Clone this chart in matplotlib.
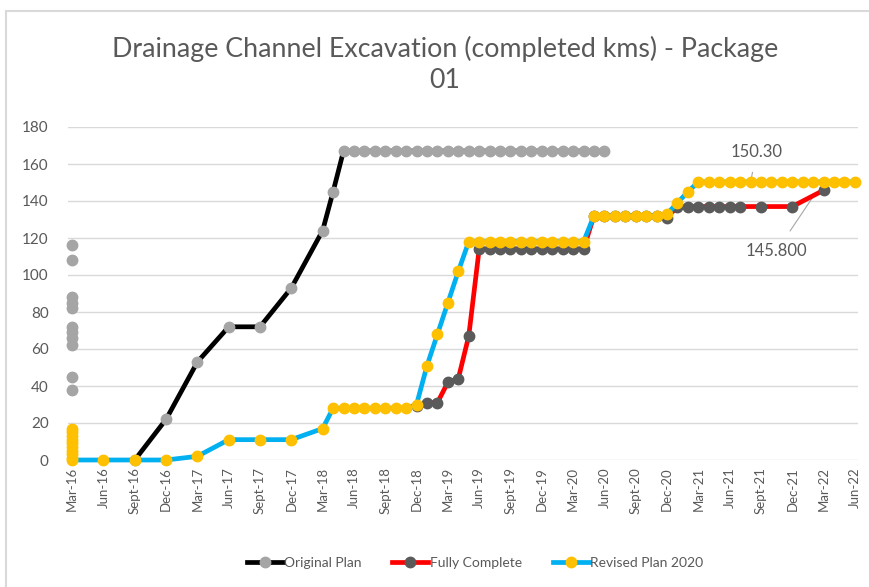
import numpy as np
import pandas as pd
import matplotlib
matplotlib.use("Agg")
from matplotlib import pyplot as plt
from matplotlib.lines import Line2D
from matplotlib.patches import Rectangle

plt.rcParams['font.family'] = ['Lato', 'DejaVu Sans']

# x axis labels (quarterly)
tick_labels = ["Mar-16", "Jun-16", "Sept-16", "Dec-16", "Mar-17", "Jun-17", "Sept-17", "Dec-17",
               "Mar-18", "Jun-18", "Sept-18", "Dec-18", "Mar-19", "Jun-19", "Sept-19", "Dec-19",
               "Mar-20", "Jun-20", "Sept-20", "Dec-20", "Mar-21", "Jun-21", "Sept-21", "Dec-21",
               "Mar-22", "Jun-22"]

# Original Plan
orig_dates = (["2016-09", "2016-12", "2017-03", "2017-06", "2017-09", "2017-12", "2018-03"]
              + [str(p) for p in pd.period_range("2018-04", "2020-06", freq="M")])
orig_vals = [0, 22, 53, 72, 72, 93, 124,
             145, 167, 167, 167, 167, 167, 167, 167, 167,
             167, 167, 167, 167, 167, 167, 167, 167, 167, 167, 167, 167,
             167, 167, 167, 167, 167, 167]
orig_extra = [116, 108, 88, 85, 82, 72, 69, 66, 62, 45, 38]   # stacked at Mar-16

# Fully Complete
full_dates = ([str(p) for p in pd.period_range("2018-12", "2021-07", freq="M")]
              + ["2021-09", "2021-12", "2022-03"])
full_vals = [29,
             31, 31, 42, 44, 67, 114, 114, 114, 114, 114, 114, 114,
             114, 114, 114, 114, 132, 132, 132, 132, 132, 132, 132, 131,
             137, 137, 137, 137, 137, 137, 137,
             137, 137, 145.8]

# Revised Plan 2020
rev_dates = (["2016-03", "2016-06", "2016-09", "2016-12", "2017-03", "2017-06", "2017-09", "2017-12", "2018-03"]
             + [str(p) for p in pd.period_range("2018-04", "2022-06", freq="M")])
rev_vals = [0, 0, 0, 0, 2, 11, 11, 11, 17,
            28, 28, 28, 28, 28, 28, 28, 28, 30,
            51, 68, 85, 102, 118, 118, 118, 118, 118, 118, 118, 118,
            118, 118, 118, 118, 132, 132, 132, 132, 132, 132, 132, 133,
            139, 145, 150.3, 150.3, 150.3, 150.3, 150.3, 150.3, 150.3, 150.3, 150.3, 150.3,
            150.3, 150.3, 150.3, 150.3, 150.3, 150.3]
rev_extra = [17, 15, 13, 11, 9, 7, 5, 3, 1]   # stacked at Mar-16

start = pd.Period("2016-03", freq="M")


def month_idx(dates):
    return np.array([(pd.Period(d, freq="M") - start).n for d in dates])


fig = plt.figure(figsize=(8.69, 5.87), dpi=100)
ax = fig.add_axes([68 / 869, 1 - 460 / 587, (858 - 68) / 869, (460 - 127) / 587])

grey_txt = "#595959"
ms = 7.5

ax.plot(month_idx(orig_dates), orig_vals, color="black", lw=3.4, marker="o", ms=ms,
        mfc="#A5A5A5", mec="#A5A5A5", clip_on=False, zorder=3)
ax.plot(np.zeros(len(orig_extra)), orig_extra, ls="none", marker="o", ms=ms,
        mfc="#A5A5A5", mec="#A5A5A5", clip_on=False, zorder=3)

ax.plot(month_idx(full_dates), full_vals, color="#FF0000", lw=3.4, marker="o", ms=ms,
        mfc="#5A5A5A", mec="#5A5A5A", clip_on=False, zorder=4)

ax.plot(month_idx(rev_dates), rev_vals, color="#00B0F0", lw=3.4, marker="o", ms=ms,
        mfc="#FFC000", mec="#FFC000", clip_on=False, zorder=5)
ax.plot(np.zeros(len(rev_extra)), rev_extra, ls="none", marker="o", ms=ms,
        mfc="#FFC000", mec="#FFC000", clip_on=False, zorder=5)

# data labels
ax.annotate("150.30", xy=(65, 150.3), xytext=(65.6, 166.5), ha="center", va="center",
            fontsize=12, color=grey_txt,
            arrowprops=dict(arrowstyle="-", color="#A6A6A6", lw=0.8, shrinkA=7, shrinkB=0))
ax.annotate("145.800", xy=(71.2, 144), xytext=(67.5, 113), ha="center", va="center",
            fontsize=12, color=grey_txt,
            arrowprops=dict(arrowstyle="-", color="#A6A6A6", lw=0.8, shrinkA=8, shrinkB=0))

ax.set_xlim(-0.4, 75.3)
ax.set_ylim(0, 180)
ax.set_yticks(np.arange(0, 181, 20))
ax.set_xticks(np.arange(0, 76, 3))
ax.set_xticklabels(tick_labels, rotation=90, fontsize=9.5, color=grey_txt)
ax.tick_params(axis="y", labelsize=11, labelcolor=grey_txt, length=0, pad=14)
ax.tick_params(axis="x", length=0, pad=5)
ax.grid(axis="y", color="#D9D9D9", lw=1)
ax.set_axisbelow(True)
for s in ax.spines.values():
    s.set_visible(False)

fig.text(445 / 869, 1 - 64 / 587, "Drainage Channel Excavation (completed kms) - Package\n01",
         ha="center", va="center", fontsize=19.3, color=grey_txt, linespacing=1.3)

handles = [
    Line2D([], [], color="black", lw=3.4, marker="o", ms=ms, mfc="#A5A5A5", mec="#A5A5A5"),
    Line2D([], [], color="#FF0000", lw=3.4, marker="o", ms=ms, mfc="#5A5A5A", mec="#5A5A5A"),
    Line2D([], [], color="#00B0F0", lw=3.4, marker="o", ms=ms, mfc="#FFC000", mec="#FFC000"),
]
fig.legend(handles, ["Original Plan", "Fully Complete", "Revised Plan 2020"],
           loc="center", bbox_to_anchor=(475 / 869, 1 - 563 / 587), ncol=3, frameon=False,
           fontsize=10, labelcolor=grey_txt, handlelength=2.6, handletextpad=0.1,
           columnspacing=2.2)

fig.patches.append(Rectangle((6 / 869, -0.05), 1.0, 1 - 11 / 587 + 0.05, transform=fig.transFigure,
                             fill=False, edgecolor="#D9D9D9", lw=1.5))

fig.savefig("out.png", dpi=100)
